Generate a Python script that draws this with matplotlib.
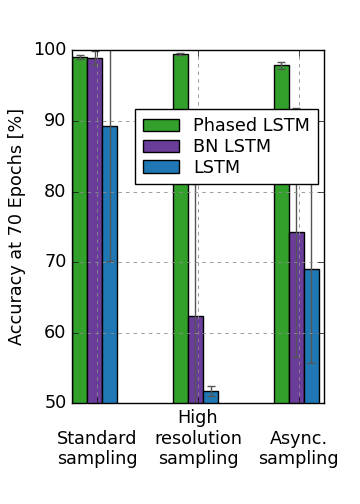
import matplotlib
matplotlib.use("Agg")
import matplotlib.pyplot as plt
import numpy as np

plt.style.use('classic')
plt.rcParams['font.family'] = ['DejaVu Sans']
plt.rcParams['font.size'] = 12.7

categories = ['Standard\nsampling', 'High\nresolution\nsampling', 'Async.\nsampling']
series_names = ['Phased LSTM', 'BN LSTM', 'LSTM']
phased_vals = [99.1, 99.5, 97.9]
phased_err = [0.3, 0.2, 0.5]
bn_vals = [98.9, 62.3, 74.2]
bn_err = [1.0, 18.7, 17.7]
lstm_vals = [89.3, 51.7, 69.0]
lstm_err = [19.2, 0.7, 13.3]
yticks = [50, 60, 70, 80, 90, 100]

colors = ['#33a02c', '#6a3d9a', '#1f78b4']
width = 0.15

fig = plt.figure(figsize=(3.6, 5.04), dpi=100, facecolor='white')
ax = fig.add_axes([0.2, 0.2, 0.7, 0.7])

x = np.arange(len(categories))
for i, (vals, errs) in enumerate([(phased_vals, phased_err), (bn_vals, bn_err), (lstm_vals, lstm_err)]):
    ax.bar(x + i * width, vals, width, align='edge', color=colors[i], edgecolor='black',
           linewidth=1, label=series_names[i],
           yerr=errs, error_kw=dict(ecolor='#555555', elinewidth=1, capsize=3, capthick=1))

ax.set_xlim(0, 2.5)
ax.set_ylim(50, 100)
ax.set_yticks(yticks)
maxl = max(c.count('\n') for c in categories)
ax.set_xticks(x + 0.25)
ax.set_xticklabels(['\n' * (maxl - c.count('\n')) + c for c in categories])
ax.set_ylabel('Accuracy at 70 Epochs [%]')
ax.grid(True, color='0.55', linestyle=(0, (2.5, 3)), linewidth=0.6)
ax.set_axisbelow(False)
for s in ax.spines.values():
    s.set_zorder(5)
ax.tick_params(direction='in', top=True, right=True)

ax.legend(loc='upper right', bbox_to_anchor=(0.976, 0.833), fancybox=False,
          framealpha=1, edgecolor='black', borderaxespad=0, fontsize=12.7,
          handleheight=0.7, labelspacing=0.15, borderpad=0.45,
          handlelength=2.05, handletextpad=0.8)

fig.savefig('out.png', dpi=100, facecolor='white')
